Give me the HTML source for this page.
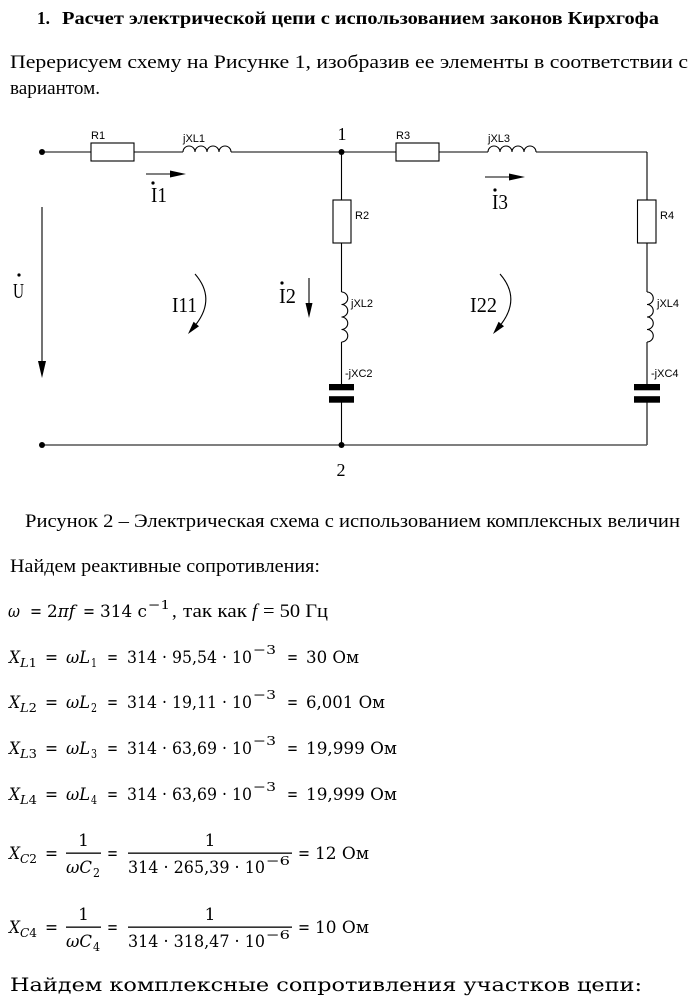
<!DOCTYPE html>
<html>
<head>
<meta charset="utf-8">
<style>
  html,body{margin:0;padding:0;background:#fff;}
  body{width:697px;height:1000px;overflow:hidden;position:relative;}
  svg{position:absolute;left:0;top:0;}
  .t{font-family:"Liberation Serif","DejaVu Serif",serif;fill:#000;}
  .m{font-family:"DejaVu Serif","Liberation Serif",serif;fill:#000;}
  .a{font-family:"Liberation Sans","DejaVu Sans",sans-serif;fill:#000;}
</style>
</head>
<body>
<svg width="697" height="1000" viewBox="0 0 697 1000" xmlns="http://www.w3.org/2000/svg">
  <!-- Title -->
  <text class="t" x="37" y="24" font-size="18" font-weight="bold" textLength="13" lengthAdjust="spacingAndGlyphs">1.</text>
  <text class="t" x="62" y="24" font-size="18" font-weight="bold" textLength="597" lengthAdjust="spacingAndGlyphs">Расчет электрической цепи с использованием законов Кирхгофа</text>

  <!-- Paragraph -->
  <g class="t" font-size="19">
    <text x="10" y="68" textLength="678" lengthAdjust="spacingAndGlyphs">Перерисуем схему на Рисунке 1, изобразив ее элементы в соответствии с</text>
    <text x="10" y="94" textLength="90" lengthAdjust="spacingAndGlyphs">вариантом.</text>
  </g>

  <!-- ===== Circuit ===== -->
  <g stroke="#000" stroke-width="1.1" fill="none">
    <line x1="42" y1="152" x2="91" y2="152"/>
    <rect x="91" y="143" width="43" height="18"/>
    <line x1="134" y1="152" x2="183" y2="152"/>
    <path d="M183,152 a6,6 0 0 1 12,0 a6,6 0 0 1 12,0 a6,6 0 0 1 12,0 a6,6 0 0 1 12,0"/>
    <line x1="231" y1="152" x2="396" y2="152"/>
    <rect x="396" y="143" width="43" height="18"/>
    <line x1="439" y1="152" x2="488" y2="152"/>
    <path d="M488,152 a6,6 0 0 1 12,0 a6,6 0 0 1 12,0 a6,6 0 0 1 12,0 a6,6 0 0 1 12,0"/>
    <line x1="536" y1="152" x2="647" y2="152"/>

    <line x1="341.5" y1="152" x2="341.5" y2="200"/>
    <rect x="333" y="200" width="18" height="43"/>
    <line x1="341.5" y1="243" x2="341.5" y2="292"/>
    <path d="M341.5,292 a6.25,6.25 0 0 1 0,12.5 a6.25,6.25 0 0 1 0,12.5 a6.25,6.25 0 0 1 0,12.5 a6.25,6.25 0 0 1 0,12.5"/>
    <line x1="341.5" y1="342" x2="341.5" y2="385"/>
    <line x1="341.5" y1="402" x2="341.5" y2="445"/>

    <line x1="647" y1="152" x2="647" y2="200"/>
    <rect x="637.5" y="200" width="18.5" height="43"/>
    <line x1="647" y1="243" x2="647" y2="292"/>
    <path d="M647,292 a6.25,6.25 0 0 1 0,12.5 a6.25,6.25 0 0 1 0,12.5 a6.25,6.25 0 0 1 0,12.5 a6.25,6.25 0 0 1 0,12.5"/>
    <line x1="647" y1="342" x2="647" y2="385"/>
    <line x1="647" y1="402" x2="647" y2="445"/>

    <line x1="42" y1="207" x2="42" y2="364"/>
    <line x1="309" y1="278" x2="309" y2="305"/>
    <line x1="146" y1="174" x2="172" y2="174"/>
    <line x1="485" y1="177" x2="511" y2="177"/>

    <path d="M195,274 Q216,298 196.3,324"/>
    <path d="M500,274 Q521,298 501.3,324"/>
  </g>
  <line x1="42" y1="445" x2="647" y2="445" stroke="#555" stroke-width="1.6"/>

  <rect x="329" y="384" width="25" height="6.3" fill="#000"/>
  <rect x="329" y="396.2" width="25" height="6.5" fill="#000"/>
  <rect x="634" y="384" width="26" height="6.3" fill="#000"/>
  <rect x="634" y="396.2" width="26" height="6.5" fill="#000"/>

  <circle cx="42" cy="152" r="3" fill="#000"/>
  <circle cx="341.5" cy="152" r="3" fill="#000"/>
  <circle cx="42" cy="445" r="3" fill="#000"/>
  <circle cx="341.5" cy="445" r="3" fill="#000"/>

  <polygon points="42,378 38,361 46,361" fill="#000"/>
  <polygon points="309,318 305.5,303 312.5,303" fill="#000"/>
  <polygon points="186,174 170,170.5 170,177.5" fill="#000"/>
  <polygon points="525,177 509,173.5 509,180.5" fill="#000"/>
  <polygon points="188,334 199,326.2 193.6,321.8" fill="#000"/>
  <polygon points="493,334 504,326.2 498.6,321.8" fill="#000"/>

  <g class="a" font-size="11">
    <text x="91" y="139">R1</text>
    <text x="183" y="142">jXL1</text>
    <text x="396" y="139">R3</text>
    <text x="488" y="142">jXL3</text>
    <text x="355" y="219">R2</text>
    <text x="660" y="219">R4</text>
    <text x="351" y="307">jXL2</text>
    <text x="657" y="307">jXL4</text>
    <text x="345" y="377">-jXC2</text>
    <text x="651" y="377">-jXC4</text>
  </g>

  <text class="t" x="342" y="140" font-size="18" text-anchor="middle">1</text>
  <text class="t" x="341" y="476" font-size="18" text-anchor="middle">2</text>

  <g class="t" font-size="21">
    <text x="151" y="202" textLength="16" lengthAdjust="spacingAndGlyphs">I1</text>
    <text x="492" y="209" textLength="16" lengthAdjust="spacingAndGlyphs">I3</text>
    <text x="279" y="303" textLength="17" lengthAdjust="spacingAndGlyphs">I2</text>
    <text x="13" y="298" textLength="11" lengthAdjust="spacingAndGlyphs">U</text>
    <text x="172" y="312" textLength="25" lengthAdjust="spacingAndGlyphs">I11</text>
    <text x="470" y="312" textLength="27" lengthAdjust="spacingAndGlyphs">I22</text>
  </g>
  <circle cx="153" cy="183" r="1.6" fill="#000"/>
  <circle cx="495" cy="190" r="1.6" fill="#000"/>
  <circle cx="282" cy="283" r="1.6" fill="#000"/>
  <circle cx="19" cy="275" r="1.6" fill="#000"/>

  <!-- Caption & text -->
  <text class="t" x="25" y="527" font-size="19" textLength="655" lengthAdjust="spacingAndGlyphs">Рисунок 2 – Электрическая схема с использованием комплексных величин</text>
  <text class="t" x="10" y="572" font-size="19" textLength="310" lengthAdjust="spacingAndGlyphs">Найдем реактивные сопротивления:</text>

  <!-- omega line -->
  <g class="m" font-size="17">
    <text x="8" y="617" font-style="italic" textLength="12" lengthAdjust="spacingAndGlyphs">ω</text>
    <text x="30" y="617" textLength="12" lengthAdjust="spacingAndGlyphs">=</text>
    <text x="47" y="617" textLength="28" lengthAdjust="spacingAndGlyphs">2<tspan font-style="italic">πf</tspan></text>
    <text x="83" y="617" textLength="12" lengthAdjust="spacingAndGlyphs">=</text>
    <text x="100" y="617" textLength="47" lengthAdjust="spacingAndGlyphs">314 с</text>
    <text x="148" y="609" font-size="12.5" textLength="22" lengthAdjust="spacingAndGlyphs">−1</text>
  </g>
  <g class="t" font-size="19">
    <text x="172" y="617">,</text>
    <text x="183" y="617" textLength="64" lengthAdjust="spacingAndGlyphs">так как</text>
    <text x="252" y="617" font-style="italic">f</text>
    <text x="263" y="617" textLength="65" lengthAdjust="spacingAndGlyphs">= 50 Гц</text>
  </g>

  <!-- XL rows -->
  <g class="m" font-size="17">
    <text x="9" y="663" font-style="italic" textLength="11" lengthAdjust="spacingAndGlyphs">X</text>
    <text x="20" y="667" font-size="12.5" textLength="17" lengthAdjust="spacingAndGlyphs"><tspan font-style="italic">L</tspan>1</text>
    <text x="45" y="663" textLength="13" lengthAdjust="spacingAndGlyphs">=</text>
    <text x="66" y="663" font-style="italic" textLength="24" lengthAdjust="spacingAndGlyphs">ωL</text>
    <text x="91" y="667" font-size="12.5" textLength="6" lengthAdjust="spacingAndGlyphs">1</text>
    <text x="107" y="663" textLength="11" lengthAdjust="spacingAndGlyphs">=</text>
    <text x="127" y="663" textLength="125" lengthAdjust="spacingAndGlyphs">314 · 95,54 · 10</text>
    <text x="253" y="654" font-size="12.5" textLength="23" lengthAdjust="spacingAndGlyphs">−3</text>
    <text x="287" y="663" textLength="11" lengthAdjust="spacingAndGlyphs">=</text>
    <text x="306" y="663" textLength="53" lengthAdjust="spacingAndGlyphs">30 Ом</text>

    <text x="9" y="708" font-style="italic" textLength="11" lengthAdjust="spacingAndGlyphs">X</text>
    <text x="20" y="712" font-size="12.5" textLength="17" lengthAdjust="spacingAndGlyphs"><tspan font-style="italic">L</tspan>2</text>
    <text x="45" y="708" textLength="13" lengthAdjust="spacingAndGlyphs">=</text>
    <text x="66" y="708" font-style="italic" textLength="24" lengthAdjust="spacingAndGlyphs">ωL</text>
    <text x="91" y="712" font-size="12.5" textLength="6" lengthAdjust="spacingAndGlyphs">2</text>
    <text x="107" y="708" textLength="11" lengthAdjust="spacingAndGlyphs">=</text>
    <text x="127" y="708" textLength="125" lengthAdjust="spacingAndGlyphs">314 · 19,11 · 10</text>
    <text x="253" y="699" font-size="12.5" textLength="23" lengthAdjust="spacingAndGlyphs">−3</text>
    <text x="287" y="708" textLength="11" lengthAdjust="spacingAndGlyphs">=</text>
    <text x="306" y="708" textLength="79" lengthAdjust="spacingAndGlyphs">6,001 Ом</text>

    <text x="9" y="754" font-style="italic" textLength="11" lengthAdjust="spacingAndGlyphs">X</text>
    <text x="20" y="758" font-size="12.5" textLength="17" lengthAdjust="spacingAndGlyphs"><tspan font-style="italic">L</tspan>3</text>
    <text x="45" y="754" textLength="13" lengthAdjust="spacingAndGlyphs">=</text>
    <text x="66" y="754" font-style="italic" textLength="24" lengthAdjust="spacingAndGlyphs">ωL</text>
    <text x="91" y="758" font-size="12.5" textLength="6" lengthAdjust="spacingAndGlyphs">3</text>
    <text x="107" y="754" textLength="11" lengthAdjust="spacingAndGlyphs">=</text>
    <text x="127" y="754" textLength="125" lengthAdjust="spacingAndGlyphs">314 · 63,69 · 10</text>
    <text x="253" y="745" font-size="12.5" textLength="23" lengthAdjust="spacingAndGlyphs">−3</text>
    <text x="287" y="754" textLength="11" lengthAdjust="spacingAndGlyphs">=</text>
    <text x="306" y="754" textLength="91" lengthAdjust="spacingAndGlyphs">19,999 Ом</text>

    <text x="9" y="800" font-style="italic" textLength="11" lengthAdjust="spacingAndGlyphs">X</text>
    <text x="20" y="804" font-size="12.5" textLength="17" lengthAdjust="spacingAndGlyphs"><tspan font-style="italic">L</tspan>4</text>
    <text x="45" y="800" textLength="13" lengthAdjust="spacingAndGlyphs">=</text>
    <text x="66" y="800" font-style="italic" textLength="24" lengthAdjust="spacingAndGlyphs">ωL</text>
    <text x="91" y="804" font-size="12.5" textLength="6" lengthAdjust="spacingAndGlyphs">4</text>
    <text x="107" y="800" textLength="11" lengthAdjust="spacingAndGlyphs">=</text>
    <text x="127" y="800" textLength="125" lengthAdjust="spacingAndGlyphs">314 · 63,69 · 10</text>
    <text x="253" y="791" font-size="12.5" textLength="23" lengthAdjust="spacingAndGlyphs">−3</text>
    <text x="287" y="800" textLength="11" lengthAdjust="spacingAndGlyphs">=</text>
    <text x="306" y="800" textLength="91" lengthAdjust="spacingAndGlyphs">19,999 Ом</text>

    <!-- XC2 row -->
    <text x="9" y="859" font-style="italic" textLength="11" lengthAdjust="spacingAndGlyphs">X</text>
    <text x="20" y="863" font-size="12.5" textLength="17" lengthAdjust="spacingAndGlyphs"><tspan font-style="italic">C</tspan>2</text>
    <text x="45" y="859" textLength="13" lengthAdjust="spacingAndGlyphs">=</text>
    <text x="83.5" y="846" text-anchor="middle">1</text>
    <text x="66" y="873" font-style="italic" textLength="26" lengthAdjust="spacingAndGlyphs">ωC</text>
    <text x="93" y="877" font-size="12.5" textLength="7" lengthAdjust="spacingAndGlyphs">2</text>
    <text x="107" y="859" textLength="11" lengthAdjust="spacingAndGlyphs">=</text>
    <text x="210" y="846" text-anchor="middle">1</text>
    <text x="128" y="873" textLength="137" lengthAdjust="spacingAndGlyphs">314 · 265,39 · 10</text>
    <text x="266" y="865" font-size="12.5" textLength="24" lengthAdjust="spacingAndGlyphs">−6</text>
    <text x="298" y="859" textLength="12" lengthAdjust="spacingAndGlyphs">=</text>
    <text x="315" y="859" textLength="54" lengthAdjust="spacingAndGlyphs">12 Ом</text>

    <!-- XC4 row -->
    <text x="9" y="933" font-style="italic" textLength="11" lengthAdjust="spacingAndGlyphs">X</text>
    <text x="20" y="937" font-size="12.5" textLength="17" lengthAdjust="spacingAndGlyphs"><tspan font-style="italic">C</tspan>4</text>
    <text x="45" y="933" textLength="13" lengthAdjust="spacingAndGlyphs">=</text>
    <text x="83.5" y="920" text-anchor="middle">1</text>
    <text x="66" y="947" font-style="italic" textLength="26" lengthAdjust="spacingAndGlyphs">ωC</text>
    <text x="93" y="951" font-size="12.5" textLength="7" lengthAdjust="spacingAndGlyphs">4</text>
    <text x="107" y="933" textLength="11" lengthAdjust="spacingAndGlyphs">=</text>
    <text x="210" y="920" text-anchor="middle">1</text>
    <text x="128" y="947" textLength="137" lengthAdjust="spacingAndGlyphs">314 · 318,47 · 10</text>
    <text x="266" y="939" font-size="12.5" textLength="24" lengthAdjust="spacingAndGlyphs">−6</text>
    <text x="298" y="933" textLength="12" lengthAdjust="spacingAndGlyphs">=</text>
    <text x="315" y="933" textLength="54" lengthAdjust="spacingAndGlyphs">10 Ом</text>
  </g>
  <rect x="66" y="852.5" width="35" height="1.3" fill="#000"/>
  <rect x="128" y="852.5" width="164" height="1.3" fill="#000"/>
  <rect x="66" y="926.5" width="35" height="1.3" fill="#000"/>
  <rect x="128" y="926.5" width="164" height="1.3" fill="#000"/>

  <!-- last line -->
  <text class="m" x="10" y="991" font-size="18.5" textLength="632" lengthAdjust="spacingAndGlyphs">Найдем комплексные сопротивления участков цепи:</text>
</svg>
</body>
</html>
